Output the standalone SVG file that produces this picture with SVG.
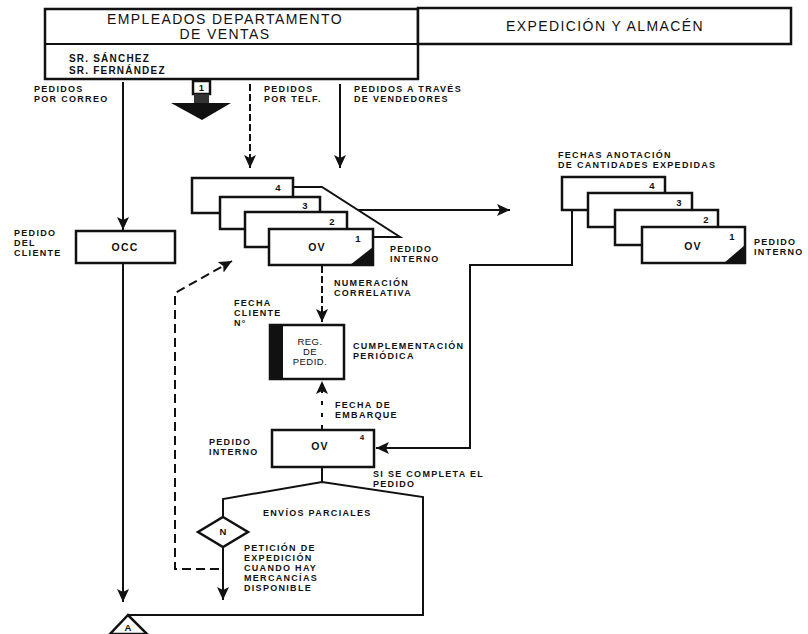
<svg xmlns="http://www.w3.org/2000/svg" width="808" height="634" viewBox="0 0 808 634">
<style>
.bx{fill:#fff;stroke:#111;stroke-width:2.5}
.ln{fill:none;stroke:#111;stroke-width:2}
.ar{marker-end:url(#ah)}
.dsh{stroke-dasharray:7 3}
.dlong{stroke-dasharray:9 5}
.dot{stroke-dasharray:4 8}
.t{font-family:"Liberation Sans",Arial,sans-serif;font-size:9px;font-weight:bold;letter-spacing:1.3px;fill:#111}
.h{font-family:"Liberation Sans",Arial,sans-serif;font-size:14px;letter-spacing:1.4px;fill:#111;text-anchor:middle}
.n{font-family:"Liberation Sans",Arial,sans-serif;font-size:9.5px;font-weight:bold;fill:#111;text-anchor:middle}
.ov{font-size:10.5px;letter-spacing:1.2px}
.rg{font-family:"Liberation Sans",Arial,sans-serif;font-size:9.5px;fill:#111;text-anchor:middle;letter-spacing:0.5px}
.blk{fill:#111}
</style>
<defs>
<marker id="ah" markerWidth="13" markerHeight="12" refX="13" refY="6" orient="auto" markerUnits="userSpaceOnUse"><path d="M0,0 L13,6 L0,12 L3,6 z" fill="#111"/></marker>
</defs>

<g id="header">
<rect x="45" y="9" width="373" height="70" class="bx"/>
<line x1="45" y1="44" x2="418" y2="44" class="ln"/>
<rect x="418" y="8" width="373" height="36" class="bx"/>
<text x="225" y="24" class="h">EMPLEADOS DEPARTAMENTO</text>
<text x="225" y="39" class="h">DE VENTAS</text>
<text x="69" y="62" class="t" style="font-size:10px;letter-spacing:1.2px">SR. SÁNCHEZ</text>
<text x="69" y="74" class="t" style="font-size:10px;letter-spacing:1.2px">SR. FERNÁNDEZ</text>
<text x="605" y="31" class="h">EXPEDICIÓN Y ALMACÉN</text>
</g>

<g id="big-arrow">
<rect x="193" y="81" width="17" height="13" class="bx" stroke-width="2"/>
<text x="201.5" y="91" class="n">1</text>
<rect x="194" y="94" width="15" height="10" fill="#333"/>
<polygon points="171,103 231,103 202,120" class="blk"/>
</g>

<g id="labels-top">
<text x="34" y="92" class="t">PEDIDOS</text>
<text x="34" y="102" class="t">POR CORREO</text>
<text x="264" y="92" class="t">PEDIDOS</text>
<text x="264" y="102" class="t">POR TELF.</text>
<text x="354" y="92" class="t">PEDIDOS A TRAVÉS</text>
<text x="354" y="102" class="t">DE VENDEDORES</text>
</g>

<g id="occ">
<rect x="76" y="231" width="99" height="32" class="bx"/>
<text x="125" y="251" class="n ov">OCC</text>
<text x="14" y="236" class="t">PEDIDO</text>
<text x="14" y="246" class="t">DEL</text>
<text x="14" y="256" class="t">CLIENTE</text>
</g>

<g id="ov-stack-left">
<rect x="192" y="178" width="101" height="35" class="bx"/>
<text x="278" y="191" class="n">4</text>
<rect x="220" y="197" width="100" height="32" class="bx"/>
<text x="305" y="209" class="n">3</text>
<rect x="245" y="212" width="102" height="35" class="bx"/>
<text x="332" y="225" class="n">2</text>
<rect x="269" y="229" width="104" height="36" class="bx"/>
<polygon points="373,247 373,265 350,265" class="blk"/>
<text x="358" y="242" class="n">1</text>
<text x="317" y="251" class="n ov">OV</text>
<text x="390" y="252" class="t">PEDIDO</text>
<text x="390" y="262" class="t">INTERNO</text>
</g>

<g id="ov-stack-right">
<text x="558" y="158" class="t">FECHAS ANOTACIÓN</text>
<text x="558" y="168" class="t">DE CANTIDADES EXPEDIDAS</text>
<rect x="562" y="177" width="103" height="33" class="bx"/>
<text x="652" y="189" class="n">4</text>
<rect x="588" y="193" width="104" height="34" class="bx"/>
<text x="679" y="206" class="n">3</text>
<rect x="615" y="210" width="103" height="35" class="bx"/>
<text x="706" y="223" class="n">2</text>
<rect x="642" y="227" width="103" height="36" class="bx"/>
<polygon points="745,245 745,263 724,263" class="blk"/>
<text x="732" y="240" class="n">1</text>
<text x="693" y="250" class="n ov">OV</text>
<text x="754" y="245" class="t">PEDIDO</text>
<text x="754" y="255" class="t">INTERNO</text>
</g>

<g id="reg-pedido">
<rect x="270" y="325" width="74" height="54" class="bx"/>
<rect x="270" y="325" width="13" height="54" class="blk"/>
<text x="310" y="345" class="rg">REG.</text>
<text x="310" y="355" class="rg">DE</text>
<text x="310" y="365" class="rg">PEDID.</text>
<text x="234" y="306" class="t">FECHA</text>
<text x="234" y="316" class="t">CLIENTE</text>
<text x="234" y="326" class="t">N°</text>
<text x="334" y="286" class="t">NUMERACIÓN</text>
<text x="334" y="296" class="t">CORRELATIVA</text>
<text x="353" y="349" class="t">CUMPLEMENTACIÓN</text>
<text x="353" y="359" class="t">PERIÓDICA</text>
<text x="335" y="408" class="t">FECHA DE</text>
<text x="335" y="418" class="t">EMBARQUE</text>
</g>

<g id="ov-lower">
<rect x="272" y="430" width="102" height="37" class="bx"/>
<text x="320" y="450" class="n ov">OV</text>
<text x="362" y="440" class="n" style="font-size:8px">4</text>
<text x="209" y="445" class="t">PEDIDO</text>
<text x="209" y="455" class="t">INTERNO</text>
<text x="373" y="477" class="t">SI SE COMPLETA EL</text>
<text x="373" y="487" class="t">PEDIDO</text>
<text x="263" y="516" class="t">ENVÍOS PARCIALES</text>
</g>

<g id="decision-n">
<polygon points="223,517 248,532 223,547 198,532" class="bx"/>
<text x="223" y="535" class="n">N</text>
<text x="244" y="551" class="t">PETICIÓN DE</text>
<text x="244" y="561" class="t">EXPEDICIÓN</text>
<text x="244" y="571" class="t">CUANDO HAY</text>
<text x="244" y="581" class="t">MERCANCÍAS</text>
<text x="244" y="591" class="t">DISPONIBLE</text>
</g>

<g id="connector-a">
<polygon points="128,615 110,634 147,634" class="bx"/>
<text x="128" y="631" class="n">A</text>
</g>

<g id="connectors">
<line x1="123" y1="82" x2="123" y2="230" class="ln ar"/>
<line x1="123" y1="263" x2="123" y2="602" class="ln ar"/>
<line x1="250" y1="84" x2="250" y2="168" class="ln ar dsh"/>
<line x1="340" y1="84" x2="340" y2="168" class="ln ar"/>
<polyline points="293,187 322,187 400,237 373,237" class="ln"/>
<line x1="358" y1="210" x2="510" y2="210" class="ln ar"/>
<polyline points="572,210 572,265 470,265 470,448 376,448" class="ln ar"/>
<line x1="322" y1="266" x2="322" y2="322" class="ln ar dsh"/>
<line x1="322" y1="429" x2="322" y2="381" class="ln ar dot"/>
<line x1="322" y1="467" x2="322" y2="482" class="ln"/>
<polyline points="223,517 223,499 322,482 423,497 423,615 128,615" class="ln"/>
<line x1="223" y1="547" x2="223" y2="600" class="ln ar"/>
<polyline points="219,569 175,569 175,293 232,261" class="ln ar dlong"/>
</g>
</svg>
